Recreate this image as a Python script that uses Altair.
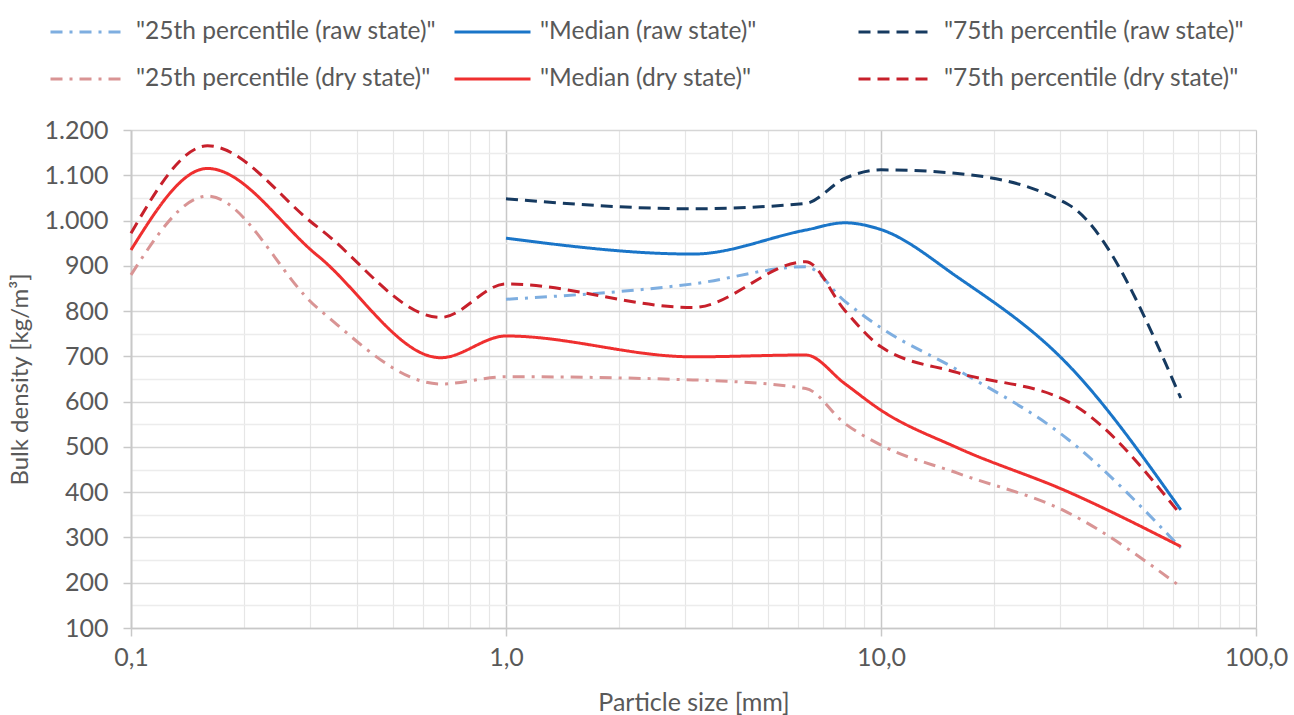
import altair as alt
import pandas as pd

# ---- data ----
series_names = [
    '"25th percentile (raw state)"',
    '"Median (raw state)"',
    '"75th percentile (raw state)"',
    '"25th percentile (dry state)"',
    '"Median (dry state)"',
    '"75th percentile (dry state)"',
]

sizes_raw = [1.0, 3.15, 6.3, 8.0, 10.0, 16.0, 31.5, 63.0]
raw_p25 = [826, 860, 898, 822, 763, 670, 517, 277]
raw_med = [961, 926, 979, 995, 980, 875, 682, 361]
raw_p75 = [1048, 1026, 1038, 1093, 1112, 1104, 1036, 608]

sizes_dry = [0.1, 0.16, 0.315, 0.67, 1.0, 3.15, 6.3, 8.0, 10.0, 16.0, 31.5, 63.0]
dry_p25 = [880, 1054, 806, 639, 655, 648, 629, 552, 504, 442, 355, 191]
dry_med = [935, 1115, 922, 697, 745, 699, 703, 640, 581, 498, 401, 280]
dry_p75 = [972, 1165, 985, 786, 860, 808, 909, 802, 721, 664, 600, 350]

colors = ["#7eaee0", "#1a75c8", "#163a60", "#d99494", "#ef2f2f", "#c7202b"]
dashes = [[12, 7, 3, 7], [1, 0], [12, 7], [12, 7, 3, 7], [1, 0], [12, 7]]

x_grid = [round(k * 10 ** e, 6) for e in (-1, 0, 1) for k in range(1, 10)] + [100.0]
y_grid = list(range(100, 1201, 50))

rows = []
for name, xs, ys in [
    (series_names[0], sizes_raw, raw_p25),
    (series_names[1], sizes_raw, raw_med),
    (series_names[2], sizes_raw, raw_p75),
    (series_names[3], sizes_dry, dry_p25),
    (series_names[4], sizes_dry, dry_med),
    (series_names[5], sizes_dry, dry_p75),
]:
    for xv, yv in zip(xs, ys):
        rows.append({"series": name, "size": xv, "density": yv})
df = pd.DataFrame(rows)

FONT = "Lato"
TXT = "#595959"

legend = alt.Legend(
    title=None, orient="none", direction="horizontal", legendX=-82, legendY=-110, columns=3,
    gridAlign="all", columnPadding=16, rowPadding=22, padding=0, clipHeight=24,
    symbolType="stroke", symbolSize=5776, symbolStrokeWidth=3,
    labelFont=FONT, labelFontSize=24.5, labelColor=TXT, labelOffset=8,
    labelLimit=500,
)

decade_test = "datum.value == 0.1 || datum.value == 1 || datum.value == 10 || datum.value == 100"

x_enc = alt.X(
    "size:Q",
    scale=alt.Scale(type="log", domain=[0.1, 100], nice=False),
    axis=alt.Axis(
        title="Particle size [mm]", values=x_grid,
        labelExpr="datum.value == 0.1 ? '0,1' : datum.value == 1 ? '1,0' : datum.value == 10 ? '10,0' : datum.value == 100 ? '100,0' : ''",
        labelFont=FONT, labelFontSize=25, labelColor=TXT, labelPadding=9,
        titleFont=FONT, titleFontSize=25, titleColor=TXT, titleFontWeight="normal", titlePadding=20,
        gridColor={"condition": {"test": "datum.value == 1 || datum.value == 10 || datum.value == 100", "value": "#c8c8c8"}, "value": "#e6e6e6"},
        gridWidth={"condition": {"test": "datum.value == 1 || datum.value == 10", "value": 1.5}, "value": 1.2},
        tickColor={"condition": {"test": decade_test, "value": "#c8c8c8"}, "value": "transparent"},
        tickSize=8, tickWidth=1.5, domainColor="#c8c8c8", domainWidth=1.5,
        labelOverlap=False, labelFlush=False,
    ),
)

y_enc = alt.Y(
    "density:Q",
    scale=alt.Scale(domain=[100, 1200], nice=False, zero=False),
    axis=alt.Axis(
        title="Bulk density [kg/m³]", values=y_grid,
        labelExpr="datum.value % 100 == 0 ? replace(format(datum.value, ','), ',', '.') : ''",
        labelFont=FONT, labelFontSize=25, labelColor=TXT, labelPadding=15,
        titleFont=FONT, titleFontSize=24, titleColor=TXT, titleFontWeight="normal", titlePadding=12,
        gridColor={"condition": {"test": "datum.value % 100 == 0", "value": "#d6d6d6"}, "value": "#ececec"},
        gridWidth=1.5,
        tickColor={"condition": {"test": "datum.value % 100 == 0", "value": "#c8c8c8"}, "value": "transparent"},
        tickSize=8, tickWidth=1.5, domainColor="#c8c8c8", domainWidth=2,
        labelOverlap=False,
    ),
)

chart = alt.Chart(df).mark_line(strokeWidth=3, interpolate="monotone").encode(
    x=x_enc,
    y=y_enc,
    color=alt.Color("series:N", scale=alt.Scale(domain=series_names, range=colors), legend=legend),
    strokeDash=alt.StrokeDash("series:N", scale=alt.Scale(domain=series_names, range=dashes), legend=legend),
    detail="series:N",
    order="size:Q",
).properties(
    width=1125, height=498,
    autosize=alt.AutoSizeParams(type="none"),
    padding={"left": 131, "top": 130, "right": 38, "bottom": 87},
).configure_view(stroke=None).configure(background="white")

chart.save("out.html", embed_options={"renderer": "svg", "actions": False})
